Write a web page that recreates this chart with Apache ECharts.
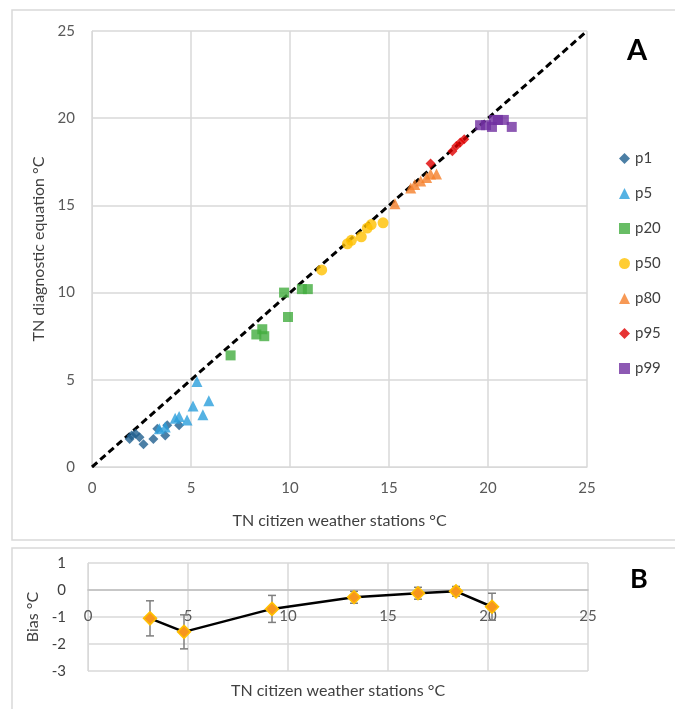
<!DOCTYPE html>
<html>
<head>
<meta charset="utf-8">
<script src="https://cdn.jsdelivr.net/npm/echarts@6/dist/echarts.min.js"></script>
<style>
  html, body { margin: 0; padding: 0; background: #fff; }
  #chart { width: 675px; height: 709px; }
</style>
</head>
<body>
<div id="chart"></div>
<script>
// panel A: TN citizen stations (x) vs diagnostic equation (y), per percentile
const p1 = [[1.9, 1.6], [2.0, 1.8], [2.2, 1.9], [2.4, 1.7], [2.6, 1.3], [3.1, 1.6], [3.3, 2.2], [3.7, 1.8], [3.8, 2.4], [4.4, 2.4]]
const p5 = [[3.4, 2.2], [3.7, 2.3], [4.2, 2.8], [4.4, 2.9], [4.8, 2.7], [5.1, 3.5], [5.3, 4.9], [5.6, 3.0], [5.9, 3.8]]
const p20 = [[7.0, 6.4], [8.3, 7.6], [8.6, 7.9], [8.7, 7.5], [9.7, 10.0], [9.9, 8.6], [10.6, 10.2], [10.9, 10.2]]
const p50 = [[11.6, 11.3], [12.9, 12.8], [13.1, 13.0], [13.6, 13.2], [13.9, 13.7], [14.1, 13.9], [14.7, 14.0]]
const p80 = [[15.3, 15.1], [16.1, 16.0], [16.3, 16.2], [16.6, 16.4], [16.9, 16.6], [17.1, 16.8], [17.4, 16.8]]
const p95 = [[17.1, 17.4], [18.2, 18.1], [18.4, 18.4], [18.6, 18.6], [18.8, 18.8]]
const p99 = [[19.6, 19.6], [19.9, 19.6], [20.2, 19.5], [20.3, 19.9], [20.5, 19.9], [20.8, 19.9], [21.2, 19.5]]
const oneToOne = [[0, 0], [25, 25]]

// panel B: bias per percentile
const biasX = [3.1, 4.8, 9.2, 13.3, 16.5, 18.4, 20.2]
const bias = [-1.05, -1.55, -0.7, -0.27, -0.12, -0.05, -0.62]
const biasErr = [0.65, 0.63, 0.5, 0.22, 0.22, 0.18, 0.5]

const FONT = 'Lato'
const TXT = '#404040'
const GRID_LINE = '#d9d9d9'

const groups = [
  { name: 'p1', data: p1, symbol: 'diamond', size: 10, color: '#1f5f8f' },
  { name: 'p5', data: p5, symbol: 'triangle', size: 11, color: '#2b9fdc' },
  { name: 'p20', data: p20, symbol: 'rect', size: 10, color: '#42ad3f' },
  { name: 'p50', data: p50, symbol: 'circle', size: 11, color: '#ffc000' },
  { name: 'p80', data: p80, symbol: 'triangle', size: 11, color: '#f5802a' },
  { name: 'p95', data: p95, symbol: 'diamond', size: 10, color: '#e00000' },
  { name: 'p99', data: p99, symbol: 'rect', size: 10, color: '#7030a0' }
]

const chart = echarts.init(document.getElementById('chart'))

const series = groups.map(g => ({
  name: g.name,
  type: 'scatter',
  xAxisIndex: 0,
  yAxisIndex: 0,
  data: g.data,
  symbol: g.symbol,
  symbolSize: g.size,
  itemStyle: { color: g.color },
  z: 3
}))

// 1:1 dashed line
series.push({
  type: 'line',
  xAxisIndex: 0,
  yAxisIndex: 0,
  data: oneToOne,
  symbol: 'none',
  lineStyle: { color: '#000', width: 3, type: [7, 4] },
  z: 2,
  silent: true
})

// error bars for bias
series.push({
  type: 'custom',
  xAxisIndex: 1,
  yAxisIndex: 1,
  data: biasX.map((x, i) => [x, bias[i], biasErr[i]]),
  renderItem: (params, api) => {
    const x = api.value(0)
    const y = api.value(1)
    const e = api.value(2)
    const top = api.coord([x, y + e])
    const bot = api.coord([x, y - e])
    const cap = 4
    const style = { stroke: '#7f7f7f', lineWidth: 1.5 }
    return {
      type: 'group',
      children: [
        { type: 'line', shape: { x1: top[0], y1: top[1], x2: bot[0], y2: bot[1] }, style },
        { type: 'line', shape: { x1: top[0] - cap, y1: top[1], x2: top[0] + cap, y2: top[1] }, style },
        { type: 'line', shape: { x1: bot[0] - cap, y1: bot[1], x2: bot[0] + cap, y2: bot[1] }, style }
      ]
    }
  },
  z: 2
})

series.push({
  type: 'line',
  xAxisIndex: 1,
  yAxisIndex: 1,
  data: biasX.map((x, i) => [x, bias[i]]),
  symbol: 'diamond',
  symbolSize: 13,
  showAllSymbol: true,
  lineStyle: { color: '#000', width: 2.5 },
  itemStyle: { color: '#f7961e', borderColor: '#ffc000', borderWidth: 1.5 },
  z: 3
})

const option = {
  backgroundColor: '#fff',
  animation: false,
  textStyle: { fontFamily: FONT },
  legend: {
    orient: 'vertical',
    left: 614,
    top: 146,
    itemWidth: 11,
    itemHeight: 11,
    itemGap: 20,
    data: groups.map(g => g.name),
    textStyle: { fontFamily: FONT, fontSize: 15, color: TXT, lineHeight: 11, padding: [0, 0, 0, 0] }
  },
  grid: [
    { left: 92, top: 31, width: 495, height: 436, outerBoundsMode: 'none' },
    { left: 88, top: 563, width: 500, height: 108, outerBoundsMode: 'none' }
  ],
  xAxis: [
    {
      gridIndex: 0,
      type: 'value',
      min: 0,
      max: 25,
      interval: 5,
      name: 'TN citizen weather stations °C',
      nameLocation: 'middle',
      nameGap: 46,
      nameTextStyle: { fontFamily: FONT, fontSize: 16, color: TXT },
      axisLine: { lineStyle: { color: GRID_LINE } },
      axisTick: { show: false },
      axisLabel: { margin: 14, fontSize: 15, color: '#595959', fontFamily: FONT },
      splitLine: { show: true, lineStyle: { color: GRID_LINE, width: 1.5 } }
    },
    {
      // bias axis drawn on the zero line (top edge shifted down one band)
      gridIndex: 1,
      type: 'value',
      min: 0,
      max: 25,
      interval: 5,
      position: 'top',
      offset: -27,
      axisLine: { onZero: false, lineStyle: { color: '#bfbfbf', width: 1.5 } },
      axisTick: { show: false },
      axisLabel: { inside: true, margin: 19, fontSize: 15, color: '#595959', fontFamily: FONT },
      splitLine: { show: true, lineStyle: { color: GRID_LINE, width: 1.5 } }
    },
    {
      // carries only the title of panel B
      gridIndex: 1,
      type: 'value',
      min: 0,
      max: 25,
      position: 'bottom',
      name: 'TN citizen weather stations °C',
      nameLocation: 'middle',
      nameGap: 12,
      nameTextStyle: { fontFamily: FONT, fontSize: 16, color: TXT },
      axisLine: { show: false, onZero: false },
      axisTick: { show: false },
      axisLabel: { show: false },
      splitLine: { show: false }
    }
  ],
  yAxis: [
    {
      gridIndex: 0,
      type: 'value',
      min: 0,
      max: 25,
      interval: 5,
      name: 'TN diagnostic equation °C',
      nameLocation: 'middle',
      nameGap: 36,
      nameTextStyle: { fontFamily: FONT, fontSize: 16, color: TXT },
      axisLine: { show: true, lineStyle: { color: GRID_LINE } },
      axisTick: { show: false },
      axisLabel: { margin: 17, fontSize: 15, color: '#595959', fontFamily: FONT },
      splitLine: { show: true, lineStyle: { color: GRID_LINE, width: 1.5 } }
    },
    {
      gridIndex: 1,
      type: 'value',
      min: -3,
      max: 1,
      interval: 1,
      name: 'Bias °C',
      nameLocation: 'middle',
      nameGap: 42,
      nameTextStyle: { fontFamily: FONT, fontSize: 16, color: TXT },
      axisLine: { show: true, onZero: false, lineStyle: { color: GRID_LINE } },
      axisTick: { show: false },
      axisLabel: { margin: 22, fontSize: 15, color: TXT, fontFamily: FONT },
      splitLine: { show: true, lineStyle: { color: GRID_LINE, width: 1.5 } }
    }
  ],
  graphic: [
    { type: 'rect', shape: { x: 12, y: 10, width: 680, height: 530 }, style: { fill: 'none', stroke: '#d9d9d9', lineWidth: 1.5 }, z: -1 },
    { type: 'rect', shape: { x: 12, y: 548, width: 680, height: 180 }, style: { fill: 'none', stroke: '#d9d9d9', lineWidth: 1.5 }, z: -1 },
    { type: 'text', left: 627, top: 36, style: { text: 'A', font: 'bold 29px ' + FONT, fill: '#000' } },
    { type: 'text', left: 630, top: 566, style: { text: 'B', font: 'bold 27px ' + FONT, fill: '#000' } }
  ],
  series
}

chart.setOption(option)
window.addEventListener('resize', () => chart.resize())
</script>
</body>
</html>
